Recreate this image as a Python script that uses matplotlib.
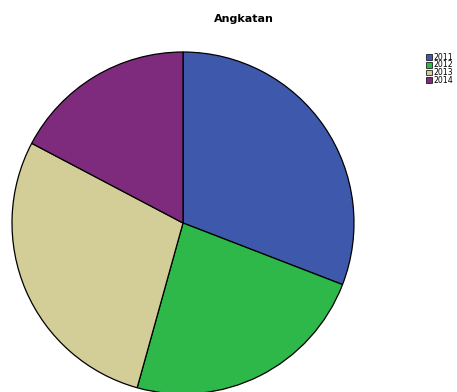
import matplotlib
matplotlib.use("Agg")
import matplotlib.pyplot as plt
from matplotlib.patches import Rectangle

plt.rcParams['font.family'] = ['DejaVu Sans']

# Students per intake year (Angkatan)
years = ['2011', '2012', '2013', '2014']
counts = [25, 19, 23, 14]
colors = ['#3e58ac', '#2eb849', '#d3ce97', '#7e2a7d']

W, H = 457, 392
fig = plt.figure(figsize=(W / 100, H / 100), dpi=100)

# pie centre and radius in pixels
cx, cy, r = 183, 223, 171
ax = fig.add_axes([(cx - r) / W, (H - cy - r) / H, 2 * r / W, 2 * r / H])
ax.pie(counts, colors=colors, startangle=90, counterclock=False,
       wedgeprops=dict(edgecolor='black', linewidth=0.9))
ax.set_xlim(-1, 1)
ax.set_ylim(-1, 1)
ax.set_aspect('equal')
ax.axis('off')

fig.text(243.5 / W, 1 - 19 / H, 'Angkatan', ha='center', va='center',
         fontsize=8, fontweight='bold')

# legend boxes down the right side
for i, (lab, col) in enumerate(zip(years, colors)):
    y = 57 + i * 7.7
    fig.patches.append(Rectangle((426 / W, 1 - (y + 2.8) / H), 5.7 / W, 5.7 / H,
                                 transform=fig.transFigure, facecolor=col,
                                 edgecolor='black', linewidth=0.5))
    fig.text(433 / W, 1 - y / H, lab, ha='left', va='center', fontsize=5.6)

fig.savefig('out.png', dpi=100)
